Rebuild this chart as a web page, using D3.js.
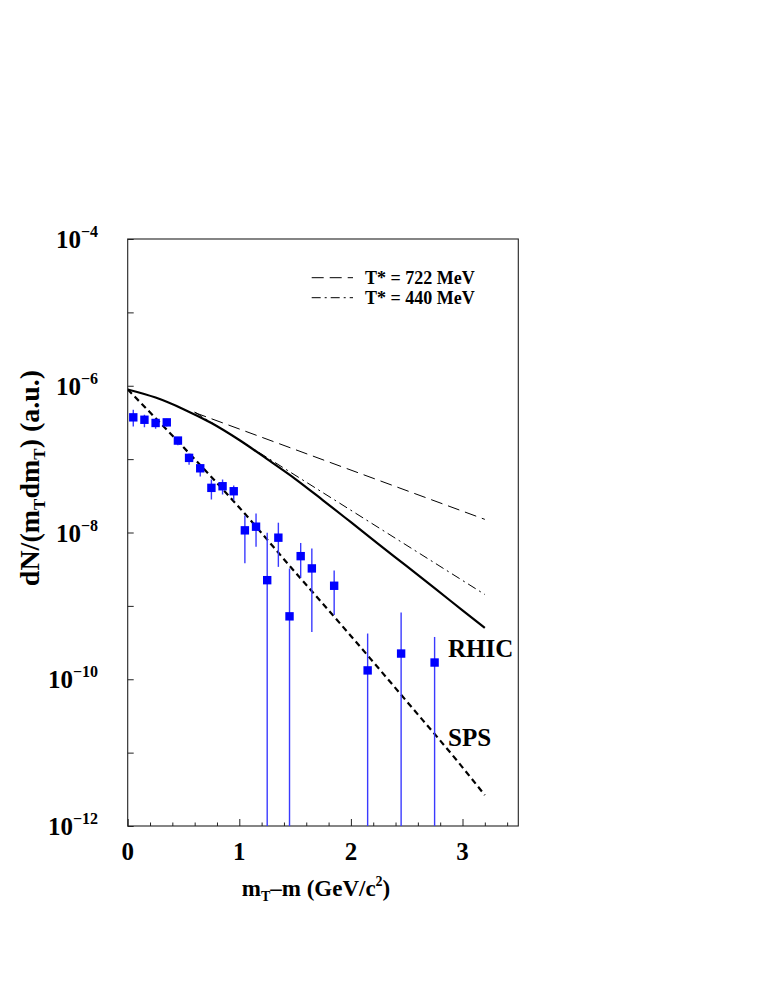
<!DOCTYPE html>
<html>
<head>
<meta charset="utf-8">
<script src="https://cdn.jsdelivr.net/npm/d3@7"></script>
<style>
  html, body { margin: 0; padding: 0; background: #fff; }
  text { font-family: "Liberation Serif", "Times New Roman", serif; font-weight: bold; fill: #000; }
</style>
</head>
<body>
<svg id="chart" width="763" height="987"></svg>
<script>
// ---- data ----
const ptX  = [0.05,0.15,0.25,0.35,0.45,0.55,0.65,0.75,0.85,0.95,1.05,1.15,1.25,1.35,1.45,1.55,1.65,1.85,2.15,2.45,2.75];
const ptY  = [3.71e-7,3.44e-7,3.11e-7,3.17e-7,1.79e-7,1.04e-7,7.5e-8,4.06e-8,4.27e-8,3.65e-8,1.07e-8,1.20e-8,2.24e-9,8.5e-9,7.2e-10,4.76e-9,3.24e-9,1.88e-9,1.32e-10,2.24e-10,1.69e-10];
const ptHi = [4.71e-7,4.03e-7,3.56e-7,3.56e-7,1.96e-7,1.19e-7,8.4e-8,5.26e-8,5.26e-8,4.36e-8,1.70e-8,1.82e-8,9.9e-9,1.36e-8,3.24e-9,7.2e-9,6.05e-9,3.04e-9,4.2e-10,8.1e-10,3.77e-10];
const ptLo = [2.79e-7,2.71e-7,2.60e-7,2.79e-7,1.54e-7,8.4e-8,5.8e-8,2.81e-8,3.29e-8,2.75e-8,3.8e-9,6.4e-9,0,3.4e-9,0,2.42e-9,4.4e-10,7.5e-10,0,0,0];

const rhicX = [0,0.25,0.5,0.75,1.0,1.25,1.5,1.75,2.0,2.25,2.5,2.75,3.0,3.2];
const rhicY = [8.9e-7,6.9e-7,4.8e-7,3.1e-7,1.82e-7,1.0e-7,5.4e-8,2.75e-8,1.38e-8,6.9e-9,3.47e-9,1.74e-9,8.7e-10,5.0e-10];

const spsX = [0,0.5,1.0,1.5,2.0,2.5,3.0,3.2];
const spsY = [8.9e-7,1.45e-7,2.19e-8,2.88e-9,3.89e-10,5.0e-11,6.3e-12,2.63e-12];

const t722X = [0.6,3.2];
const t722Y = [4.31e-7,1.51e-8];
const t440X = [0.6,3.2];
const t440Y = [4.39e-7,1.43e-9];

const xMajorTicks = [0,1,2,3];
const xMinorTicks = [0.2,0.4,0.6,0.8,1.2,1.4,1.6,1.8,2.2,2.4,2.6,2.8,3.2,3.4];
const yTicks = [1e-12,1e-11,1e-10,1e-9,1e-8,1e-7,1e-6,1e-5,1e-4];
const yLabelVals = [1e-4,1e-6,1e-8,1e-10,1e-12];
const yLabelExp = ["\u22124","\u22126","\u22128","\u221210","\u221212"];
const legendLabels = ["T* = 722 MeV","T* = 440 MeV"];

// ---- layout ----
const L = 127.7, R = 518.3, T = 239, B = 826;
const svg = d3.select("#chart");
svg.append("rect").attr("width",763).attr("height",987).attr("fill","#fff");

const x = d3.scaleLinear().domain([0,3.5]).range([L,R]);
const y = d3.scaleLog().domain([1e-12,1e-4]).range([B,T]);

svg.append("defs").append("clipPath").attr("id","clip")
  .append("rect").attr("x",L).attr("y",T).attr("width",R-L).attr("height",B-T);

// axes
const gx = svg.append("g").attr("transform",`translate(0,${B})`)
  .call(d3.axisBottom(x).tickValues(xMajorTicks).tickSize(-7).tickFormat(""));
const gxm = svg.append("g").attr("transform",`translate(0,${B})`)
  .call(d3.axisBottom(x).tickValues(xMinorTicks).tickSize(-3.5).tickFormat(""));
const gy = svg.append("g").attr("transform",`translate(${L},0)`)
  .call(d3.axisLeft(y).tickValues(yTicks).tickSize(-6).tickFormat(""));
[gx,gxm,gy].forEach(g => {
  g.select(".domain").remove();
  g.selectAll("line").attr("stroke","#222").attr("stroke-width",1);
});

// frame
svg.append("rect").attr("x",L).attr("y",T).attr("width",R-L).attr("height",B-T)
  .attr("fill","none").attr("stroke","#222").attr("stroke-width",1.1);

// x tick labels
svg.append("g").selectAll("text").data(xMajorTicks).join("text")
  .attr("x",d=>x(d)).attr("y",860).attr("text-anchor","middle")
  .attr("font-size",25).text(d=>d);

// y tick labels
const yl = svg.append("g").selectAll("text").data(yLabelVals).join("text")
  .attr("x",98).attr("y",d=>y(d)+9).attr("text-anchor","end").attr("font-size",25);
yl.append("tspan").text("10");
yl.append("tspan").attr("dy",-11).attr("font-size",16).text((d,i)=>yLabelExp[i]);

// axis titles
const xt = svg.append("text").attr("x",316).attr("y",896).attr("text-anchor","middle").attr("font-size",23);
xt.append("tspan").text("m");
xt.append("tspan").attr("font-size",14).attr("dy",5).text("T");
xt.append("tspan").attr("dy",-5).text("\u2013m (GeV/c");
xt.append("tspan").attr("font-size",14).attr("dy",-10).text("2");
xt.append("tspan").attr("dy",10).text(")");

const yt = svg.append("text").attr("transform","translate(39,478) rotate(-90)")
  .attr("text-anchor","middle").attr("font-size",28);
yt.append("tspan").text("dN/(m");
yt.append("tspan").attr("font-size",17).attr("dy",6).text("T");
yt.append("tspan").attr("dy",-6).text("dm");
yt.append("tspan").attr("font-size",17).attr("dy",6).text("T");
yt.append("tspan").attr("dy",-6).text(") (a.u.)");

// curves
const plot = svg.append("g").attr("clip-path","url(#clip)");
const line = d3.line().x(d=>x(d[0])).y(d=>y(d[1])).curve(d3.curveMonotoneX);
const zip = (a,b) => a.map((v,i)=>[v,b[i]]);

plot.append("path").datum(zip(rhicX,rhicY)).attr("d",line)
  .attr("fill","none").attr("stroke","#000").attr("stroke-width",2.2);
plot.append("path").datum(zip(spsX,spsY)).attr("d",line)
  .attr("fill","none").attr("stroke","#000").attr("stroke-width",2.2).attr("stroke-dasharray","6,4");
plot.append("path").datum(zip(t722X,t722Y)).attr("d",line)
  .attr("fill","none").attr("stroke","#000").attr("stroke-width",1).attr("stroke-dasharray","12,6");
plot.append("path").datum(zip(t440X,t440Y)).attr("d",line)
  .attr("fill","none").attr("stroke","#000").attr("stroke-width",1).attr("stroke-dasharray","9,4,2,4");

// data points
const pts = ptX.map((v,i)=>({x:v,y:ptY[i],hi:ptHi[i],lo:ptLo[i]}));
plot.append("g").selectAll("line").data(pts).join("line")
  .attr("x1",d=>x(d.x)).attr("x2",d=>x(d.x))
  .attr("y1",d=>y(d.hi)).attr("y2",d=>d.lo>0 ? y(d.lo) : B+2)
  .attr("stroke","#3a3aff").attr("stroke-width",1.4);
plot.append("g").selectAll("rect").data(pts).join("rect")
  .attr("x",d=>x(d.x)-4.2).attr("y",d=>y(d.y)-4.2).attr("width",8.4).attr("height",8.4)
  .attr("fill","#0000ff");

// curve labels
svg.append("text").attr("x",448).attr("y",657).attr("font-size",25).text("RHIC");
svg.append("text").attr("x",448).attr("y",746).attr("font-size",25).text("SPS");

// legend
const legY = [277.7, 297.7];
const legDash = ["12,6","9,4,2,4"];
legY.forEach((ly,i)=>{
  svg.append("line").attr("x1",311.7).attr("x2",353).attr("y1",ly).attr("y2",ly)
    .attr("stroke","#000").attr("stroke-width",1).attr("stroke-dasharray",legDash[i]);
  svg.append("text").attr("x",365).attr("y",ly+6).attr("font-size",18).text(legendLabels[i]);
});
</script>
</body>
</html>
